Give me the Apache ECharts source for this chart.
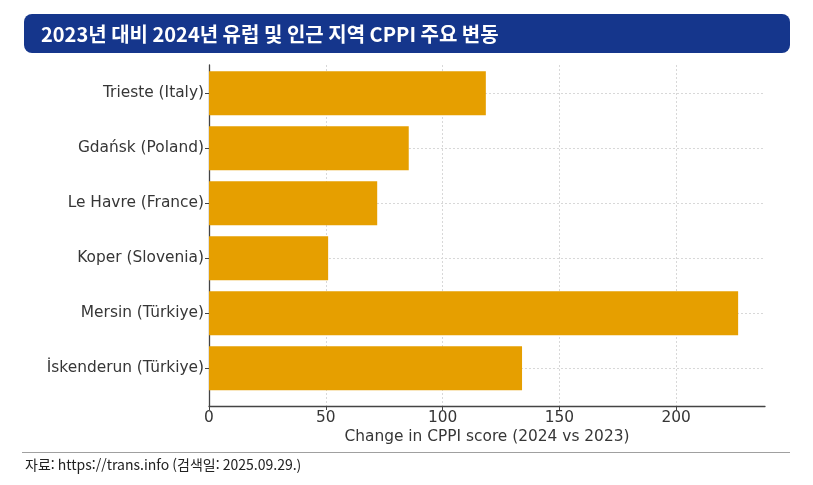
<!DOCTYPE html>
<html lang="ko">
<head>
    <meta charset="UTF-8">
    <title>CPPI 변동</title>
    <style>
        html, body { margin: 0; padding: 0; background: #fff; }
    </style>
</head>
<body>

<div id="main" style="width: 813px; height: 485px;"></div>

<script src="https://cdn.jsdelivr.net/npm/echarts@6/dist/echarts.min.js"></script>
<script>
    // 데이터
    var ports = ['Trieste (Italy)', 'Gdańsk (Poland)', 'Le Havre (France)', 'Koper (Slovenia)', 'Mersin (Türkiye)', 'İskenderun (Türkiye)'];
    var cppiChange = [118.5, 85.5, 72, 51, 226.5, 134];
    var xMax = 238;
    var xStep = 50;

    var labelFont = 'DejaVu Sans';
    var labelSize = 15.4;
    var textColor = '#363636';

    var myChart = echarts.init(document.getElementById('main'));

    var option = {
        backgroundColor: '#fff',
        animation: false,
        grid: [
            // 막대용: 첫/마지막 카테고리 중심이 격자 위/아래 끝에 오도록
            { left: 209, right: 48, top: 93.3, height: 275 },
            // 축선/눈금용
            { left: 209, right: 48, top: 65, height: 341 }
        ],
        xAxis: [
            {
                gridIndex: 0, type: 'value', min: 0, max: xMax, show: false
            },
            {
                gridIndex: 1, type: 'value', min: 0, max: xMax, interval: xStep,
                name: 'Change in CPPI score (2024 vs 2023)',
                nameLocation: 'middle',
                nameGap: 23,
                nameTextStyle: { fontFamily: labelFont, fontSize: labelSize, color: textColor },
                axisLine: { show: true, lineStyle: { color: '#444', width: 1.3 } },
                axisTick: { show: true, length: 4, lineStyle: { color: '#444' } },
                axisLabel: {
                    fontFamily: labelFont, fontSize: labelSize, color: textColor, margin: 4,
                    showMaxLabel: false
                },
                splitLine: {
                    show: true, showMaxLine: false,
                    lineStyle: { color: '#d8d8d8', type: [2, 2], width: 1 }
                }
            }
        ],
        yAxis: [
            {
                gridIndex: 0, type: 'category', data: ports, inverse: true, boundaryGap: false,
                axisLine: { show: false },
                axisTick: { show: true, length: 4, lineStyle: { color: '#444' } },
                axisLabel: { fontFamily: labelFont, fontSize: labelSize, color: textColor, margin: 5 },
                splitLine: { show: true, interval: 0, lineStyle: { color: '#d8d8d8', type: [2, 2], width: 1 } }
            },
            {
                gridIndex: 1, type: 'value', min: 0, max: 1,
                axisLine: { show: true, lineStyle: { color: '#444', width: 1.3 } },
                axisTick: { show: false },
                axisLabel: { show: false },
                splitLine: { show: false }
            }
        ],
        series: [
            {
                type: 'bar',
                xAxisIndex: 0,
                yAxisIndex: 0,
                data: cppiChange,
                barWidth: 44,
                clip: false,
                itemStyle: { color: '#E69F00' },
                z: 3
            }
        ],
        graphic: [
            {
                type: 'rect',
                shape: { x: 24, y: 14, width: 766, height: 39, r: 8 },
                style: { fill: '#15368C' }
            },
            {
                type: 'text',
                x: 41, y: 34,
                style: {
                    text: '2023년 대비 2024년 유럽 및 인근 지역 CPPI 주요 변동',
                    fill: '#fff',
                    font: 'bold 20px "Noto Sans CJK KR"',
                    verticalAlign: 'middle'
                }
            },
            {
                type: 'line',
                shape: { x1: 22, y1: 452.5, x2: 790, y2: 452.5 },
                style: { stroke: '#a0a0a0', lineWidth: 1 }
            },
            {
                type: 'text',
                x: 25, y: 465,
                style: {
                    text: '자료: https://trans.info (검색일: 2025.09.29.)',
                    fill: '#222',
                    font: '14px "Noto Sans CJK KR"',
                    verticalAlign: 'middle'
                }
            }
        ]
    };
    myChart.setOption(option);
</script>
</body>
</html>
